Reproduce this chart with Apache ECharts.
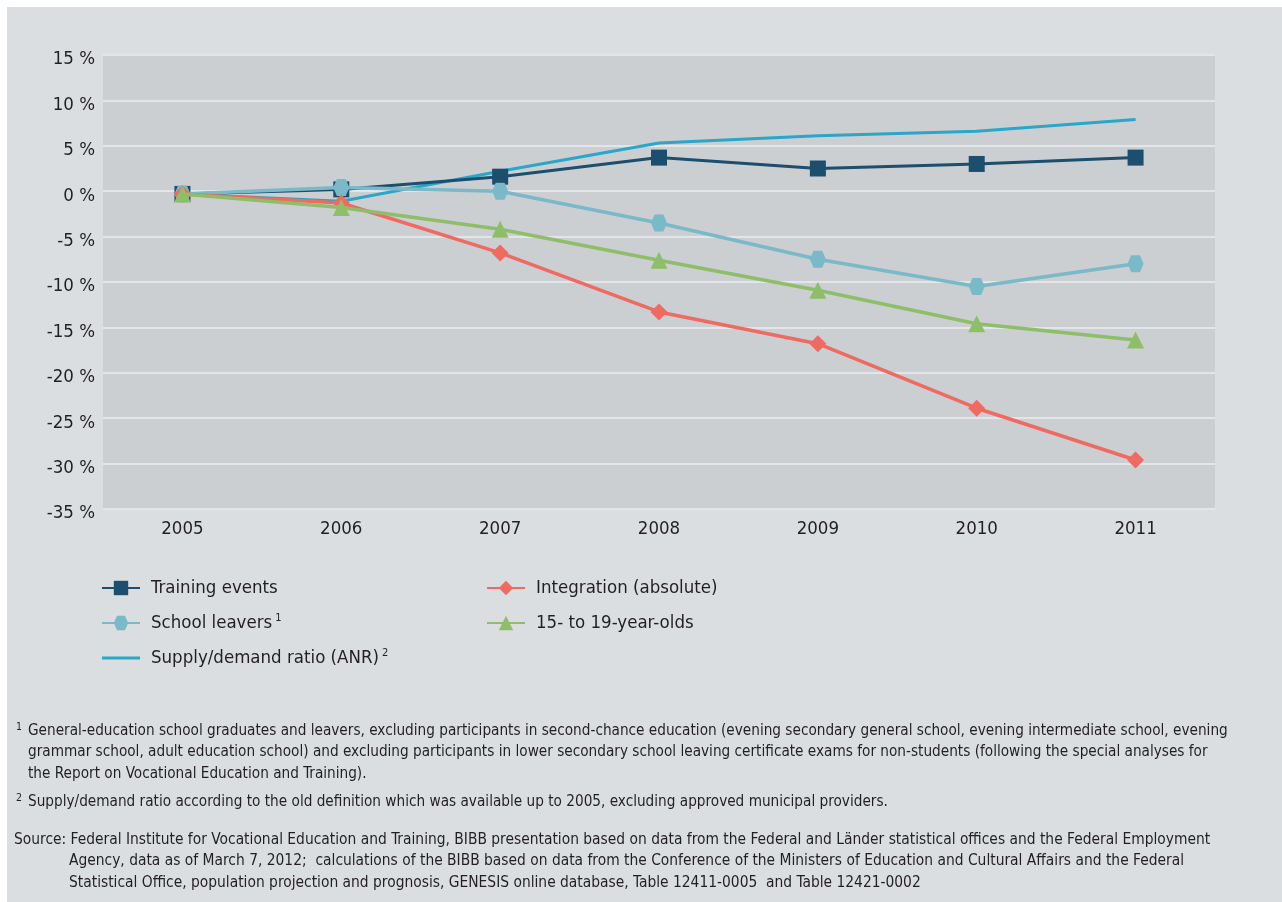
<!DOCTYPE html>
<html>
<head>
<meta charset="utf-8">
<script src="https://cdn.jsdelivr.net/npm/echarts@6/dist/echarts.min.js"></script>
<style>
  html, body { margin: 0; padding: 0; background: #fff; }
  #wrap { position: absolute; left: 7px; top: 7px; width: 1275px; height: 895px; }
  #chart { width: 1275px; height: 895px; }
</style>
</head>
<body>
<div id="wrap"><div id="chart"></div></div>
<script>
;(function(){

  // data (change against 2005, in %)
  var years = ['2005', '2006', '2007', '2008', '2009', '2010', '2011'];
  var trainingEvents = [-0.3, 0.2, 1.6, 3.7, 2.5, 3.0, 3.7];
  var schoolLeavers  = [-0.3, 0.4, 0.0, -3.5, -7.5, -10.5, -8.0];
  var supplyDemand   = [-0.3, -1.1, 2.2, 5.3, 6.1, 6.6, 7.9];
  var integration    = [-0.3, -1.3, -6.8, -13.3, -16.8, -23.9, -29.6];
  var age15to19      = [-0.3, -1.8, -4.2, -7.6, -10.9, -14.6, -16.4];

  var font = "'Liberation Sans Narrow', 'DejaVu Sans Condensed', sans-serif";
  var txt = '#231f20';

  var hexagon = 'path://M-1,0 L-0.55,-1 L0.55,-1 L1,0 L0.55,1 L-0.55,1 Z';
  // plain line for the legend entry of the series without markers
  var lineOnly = 'path://M0,0 L0.01,0 L0.01,0.01 Z M0,7.5 L38,7.5 L38,10.5 L0,10.5 Z M0,18 L0.01,18 L0.01,17.99 Z';

  var footLines = [
    { x: 21, y: 731, t: 'General-education school graduates and leavers, excluding participants in second-chance education (evening secondary general school, evening intermediate school, evening' },
    { x: 21, y: 752, t: 'grammar school, adult education school) and excluding participants in lower secondary school leaving certificate exams for non-students (following the special analyses for' },
    { x: 21, y: 774, t: 'the Report on Vocational Education and Training).' },
    { x: 21, y: 802, t: 'Supply/demand ratio according to the old definition which was available up to 2005, excluding approved municipal providers.' },
    { x: 7,  y: 840, t: 'Source: Federal Institute for Vocational Education and Training, BIBB presentation based on data from the Federal and Länder statistical offices and the Federal Employment' },
    { x: 62, y: 861, t: 'Agency, data as of March 7, 2012;  calculations of the BIBB based on data from the Conference of the Ministers of Education and Cultural Affairs and the Federal' },
    { x: 62, y: 883, t: 'Statistical Office, population projection and prognosis, GENESIS online database, Table 12411-0005  and Table 12421-0002' }
  ];
  var supers = [
    { x: 9, y: 727, t: '1' },
    { x: 9, y: 798, t: '2' }
  ];

  var graphics = [];
  footLines.forEach(function (l, i) {
    graphics.push({
      type: 'text', x: l.x, y: l.y - 7,
      style: { text: l.t, font: (i >= 4 ? '15.4px ' : '15.2px ') + font, fill: txt, verticalAlign: 'middle', align: 'left' }
    });
  });
  supers.forEach(function (s) {
    graphics.push({
      type: 'text', x: s.x, y: s.y - 7,
      style: { text: s.t, font: '10.5px ' + font, fill: txt, verticalAlign: 'middle', align: 'left' }
    });
  });

  var legendText = {
    fontFamily: font, fontSize: 18.5, color: txt, lineHeight: 20,
    padding: [0, 0, 0, 6],
    rich: {
      s: { fontFamily: font, fontSize: 11, color: txt, verticalAlign: 'top', padding: [0, 0, 8, 3] }
    }
  };
  function legendFmt(name) {
    if (name === 'School leavers') return name + '{s|1}';
    if (name === 'Supply/demand ratio (ANR)') return name + '{s|2}';
    return name;
  }

  var myChart = echarts.init(document.getElementById('chart'));

  var option = {
    backgroundColor: '#dbdee1',
    animation: false,
    grid: {
      left: 96, right: 67, top: 48, bottom: 393,
      show: true, backgroundColor: '#cbcfd2', borderWidth: 0
    },
    legend: [
      {
        orient: 'vertical', left: 89, top: 566, itemGap: 15,
        itemWidth: 38, itemHeight: 18,
        textStyle: legendText, formatter: legendFmt,
        data: ['Training events', 'School leavers', { name: 'Supply/demand ratio (ANR)', icon: lineOnly }]
      },
      {
        orient: 'vertical', left: 474, top: 566, itemGap: 15,
        itemWidth: 38, itemHeight: 18,
        textStyle: legendText, formatter: legendFmt,
        data: ['Integration (absolute)', '15- to 19-year-olds']
      }
    ],
    xAxis: {
      type: 'category',
      data: years,
      boundaryGap: true,
      axisLine: { show: false },
      axisTick: { show: false },
      axisLabel: { color: txt, fontFamily: font, fontSize: 18.5, margin: 11 }
    },
    yAxis: {
      type: 'value',
      min: -35, max: 15, interval: 5,
      axisLine: { show: false },
      axisTick: { show: false },
      splitLine: { lineStyle: { color: '#e3e6e8', width: 2 } },
      axisLabel: {
        color: txt, fontFamily: font, fontSize: 18.5, margin: 8,
        verticalAlign: 'top', lineHeight: 9,
        formatter: function (v) { return v + ' %'; }
      }
    },
    graphic: graphics,
    series: [
      {
        name: 'Supply/demand ratio (ANR)', type: 'line', data: supplyDemand,
        symbol: 'none', lineStyle: { color: '#2aa6c9', width: 3 },
        itemStyle: { color: '#2aa6c9' }, z: 2
      },
      {
        name: 'Training events', type: 'line', data: trainingEvents,
        symbol: 'rect', symbolSize: 16, showAllSymbol: true,
        lineStyle: { color: '#1c4e6d', width: 3 },
        itemStyle: { color: '#1c4e6d' }, z: 3
      },
      {
        name: 'School leavers', type: 'line', data: schoolLeavers,
        symbol: hexagon, symbolSize: [16, 17],
        lineStyle: { color: '#79b9c8', width: 3.5 },
        itemStyle: { color: '#79b9c8' }, z: 4
      },
      {
        name: 'Integration (absolute)', type: 'line', data: integration,
        symbol: 'diamond', symbolSize: 17,
        lineStyle: { color: '#ef6a60', width: 3.5 },
        itemStyle: { color: '#ef6a60' }, z: 5
      },
      {
        name: '15- to 19-year-olds', type: 'line', data: age15to19,
        symbol: 'triangle', symbolSize: 17,
        lineStyle: { color: '#8fbe69', width: 3.5 },
        itemStyle: { color: '#8fbe69' }, z: 6
      }
    ]
  };

  myChart.setOption(option);

})();
</script>
</body>
</html>
